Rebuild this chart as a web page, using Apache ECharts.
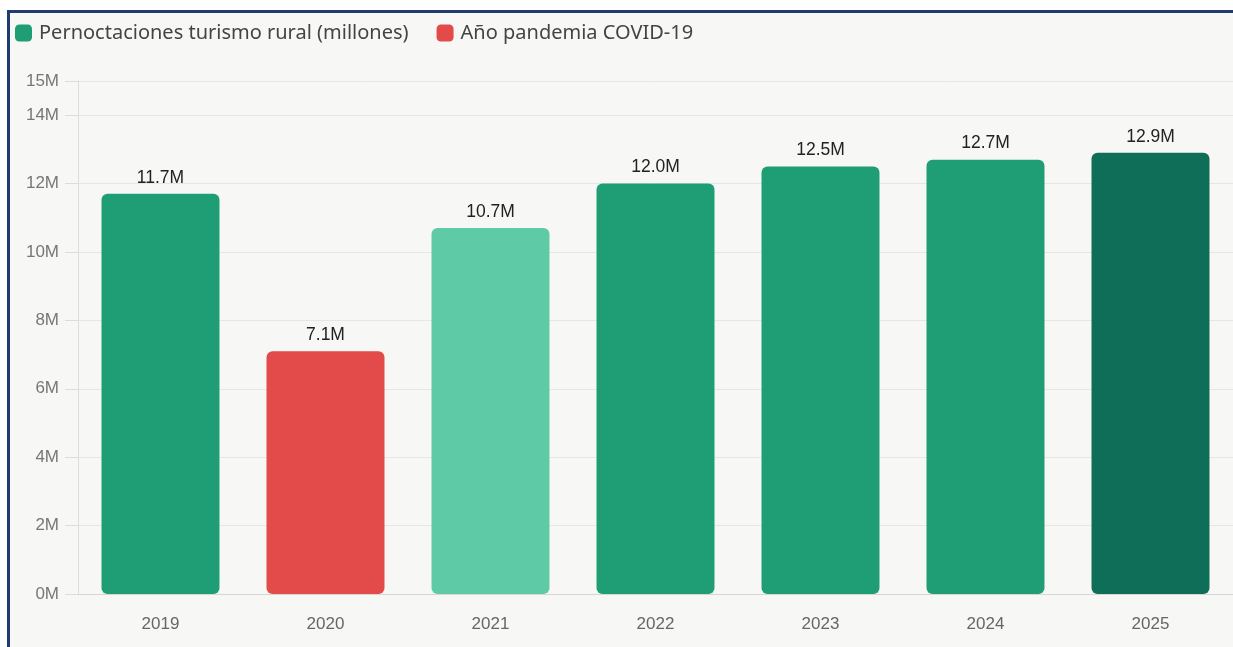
<!DOCTYPE html>
<html>
<head>
<meta charset="utf-8">
<script src="https://cdn.jsdelivr.net/npm/echarts@6/dist/echarts.min.js"></script>
<style>
  html, body { margin: 0; padding: 0; background: #ffffff; overflow: hidden; }
  #frame {
    position: absolute; left: 7px; top: 10px; width: 1240px; height: 650px;
    border-top: 3px solid #1f3c70; border-left: 3px solid #1f3c70;
    background: #f7f7f5;
  }
  #chart { position: absolute; left: 0; top: 0; width: 1233px; height: 647px; }
</style>
</head>
<body>
<div id="frame"></div>
<div id="chart"></div>
<script>
// Rural tourism overnight stays in Spain, millions per year
const years = ['2019', '2020', '2021', '2022', '2023', '2024', '2025'];
const stays = [11.7, 7.1, 10.7, 12.0, 12.5, 12.7, 12.9];
const pandemicYear = '2020';
const barColors = ['#1f9e76', '#e34b4b', '#5ecba6', '#1f9e76', '#1f9e76', '#1f9e76', '#0f6e57'];
const seriesNames = ['Pernoctaciones turismo rural (millones)', 'Año pandemia COVID-19'];
const legendColors = ['#1f9e76', '#e34b4b'];

const mainData = years.map((y, i) => y === pandemicYear ? '-' :
  { value: stays[i], itemStyle: { color: barColors[i] } });
const covidData = years.map((y, i) => y === pandemicYear ?
  { value: stays[i], itemStyle: { color: barColors[i] } } : '-');

const labelCfg = {
  show: true, position: 'top', distance: 7,
  color: '#222', fontSize: 17.5, fontFamily: 'Liberation Sans',
  formatter: p => p.value.toFixed(1) + 'M'
};

const chart = echarts.init(document.getElementById('chart'), null, { renderer: 'canvas' });
chart.setOption({
  backgroundColor: 'transparent',
  animation: false,
  legend: {
    left: 15, top: 23, padding: 0, itemWidth: 17, itemHeight: 17, itemGap: 28,
    icon: 'roundRect',
    textStyle: { color: '#444', fontSize: 20, fontFamily: 'Noto Sans', padding: [0, 0, 0, 2] },
    data: seriesNames.map((n, i) => ({ name: n, itemStyle: { color: legendColors[i] } }))
  },
  grid: { left: 78, right: 0, top: 81, bottom: 53, containLabel: false },
  xAxis: {
    type: 'category', data: years,
    axisLine: { lineStyle: { color: '#d6d6d6' } },
    axisTick: { show: false },
    axisLabel: { color: '#666', fontSize: 17, fontFamily: 'Liberation Sans', margin: 22 }
  },
  yAxis: {
    type: 'value', min: 0, max: 15, interval: 2,
    axisLine: { show: true, lineStyle: { color: '#dcdcdc' } },
    axisTick: { show: true, length: 13, lineStyle: { color: '#dcdcdc' } },
    splitLine: { lineStyle: { color: '#e6e6e6' } },
    axisLabel: { color: '#777', fontSize: 17, fontFamily: 'Liberation Sans', margin: 19,
      formatter: v => v + 'M' }
  },
  series: [
    { name: seriesNames[0], type: 'bar', data: mainData, barWidth: '71.5%', barGap: '-100%',
      itemStyle: { borderRadius: 6, color: legendColors[0] }, label: labelCfg },
    { name: seriesNames[1], type: 'bar', data: covidData, barWidth: '71.5%', barGap: '-100%',
      itemStyle: { borderRadius: 6, color: legendColors[1] }, label: labelCfg }
  ]
});
</script>
</body>
</html>
